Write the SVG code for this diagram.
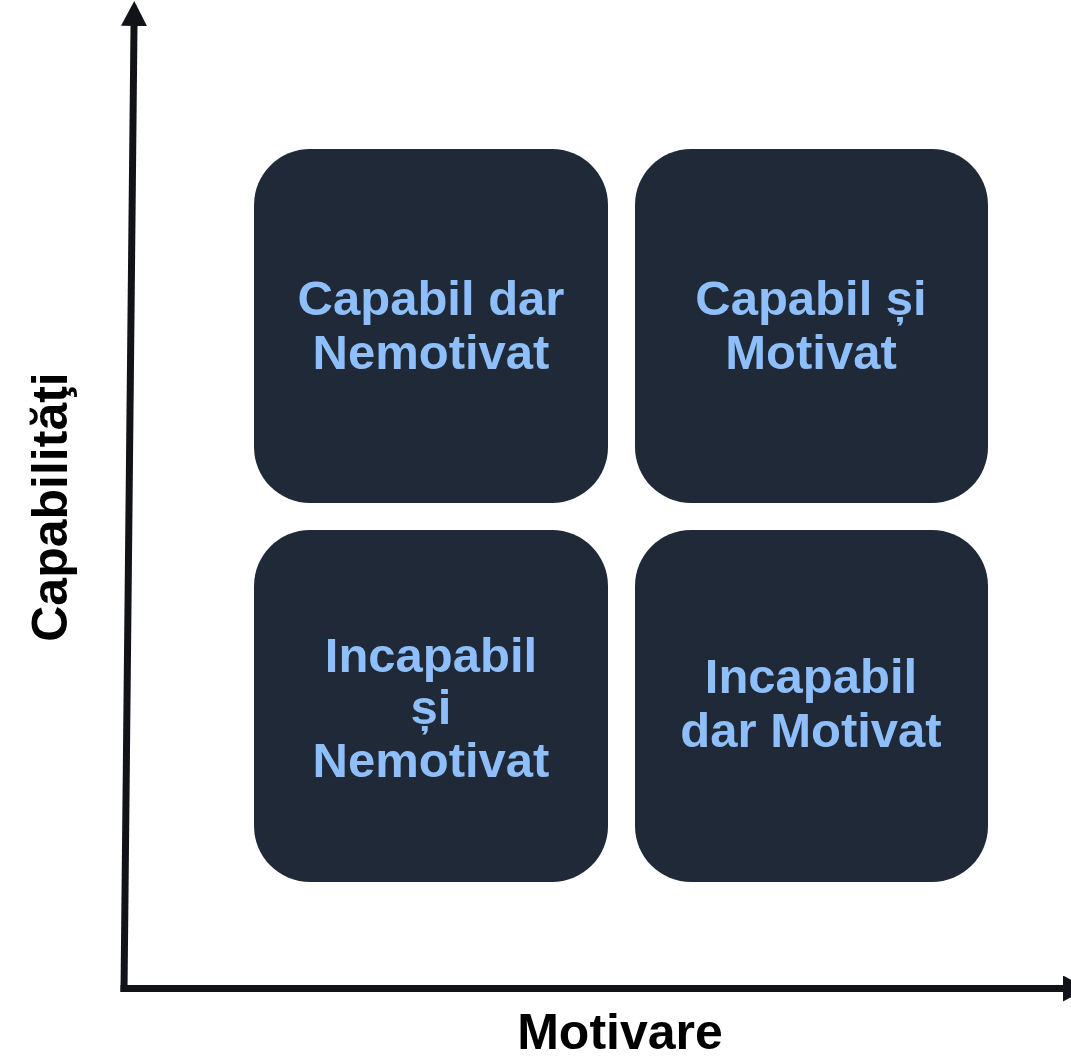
<svg xmlns="http://www.w3.org/2000/svg" width="1071" height="1061" viewBox="0 0 1071 1061">
  <style>
    .box { fill: #1f2937; }
    .label { font-family: "Liberation Sans", Arial, sans-serif; font-weight: bold; font-size: 49px; fill: #8fbffb; text-anchor: middle; }
    .axis { stroke: #111318; stroke-width: 7; fill: none; }
    .axis-title { font-family: "Liberation Sans", Arial, sans-serif; font-weight: bold; font-size: 50px; fill: #000; text-anchor: middle; }
  </style>
  <defs>
    <marker id="arrow" markerUnits="userSpaceOnUse" markerWidth="26" markerHeight="26" refX="0" refY="12" orient="auto" viewBox="0 0 24 24">
      <path d="M0,0 L23,12 L0,24 Z" fill="#111318"/>
    </marker>
  </defs>
  <rect width="1071" height="1061" fill="#fff"/>

  <!-- axes -->
  <g id="connectors">
    <line class="axis" x1="124" y1="992" x2="134" y2="26" marker-end="url(#arrow)"/>
    <line class="axis" x1="120.5" y1="988.5" x2="1063" y2="988.5" marker-end="url(#arrow)"/>
  </g>

  <!-- axis titles -->
  <text class="axis-title" transform="translate(67,507) rotate(-90)">Capabilităţi</text>
  <text class="axis-title" x="620" y="1049">Motivare</text>

  <!-- quadrants -->
  <g id="capabil-nemotivat">
    <rect class="box" x="254" y="149" width="354" height="354" rx="56"/>
    <text class="label" x="431" y="315">Capabil dar</text>
    <text class="label" x="431" y="369">Nemotivat</text>
  </g>
  <g id="capabil-motivat">
    <rect class="box" x="635" y="149" width="353" height="354" rx="56"/>
    <text class="label" x="811" y="315">Capabil și</text>
    <text class="label" x="811" y="369">Motivat</text>
  </g>
  <g id="incapabil-nemotivat">
    <rect class="box" x="254" y="530" width="354" height="352" rx="56"/>
    <text class="label" x="431" y="672">Incapabil</text>
    <text class="label" x="431" y="724">și</text>
    <text class="label" x="431" y="777">Nemotivat</text>
  </g>
  <g id="incapabil-motivat">
    <rect class="box" x="635" y="530" width="353" height="352" rx="56"/>
    <text class="label" x="811" y="693">Incapabil</text>
    <text class="label" x="811" y="747">dar Motivat</text>
  </g>
</svg>
